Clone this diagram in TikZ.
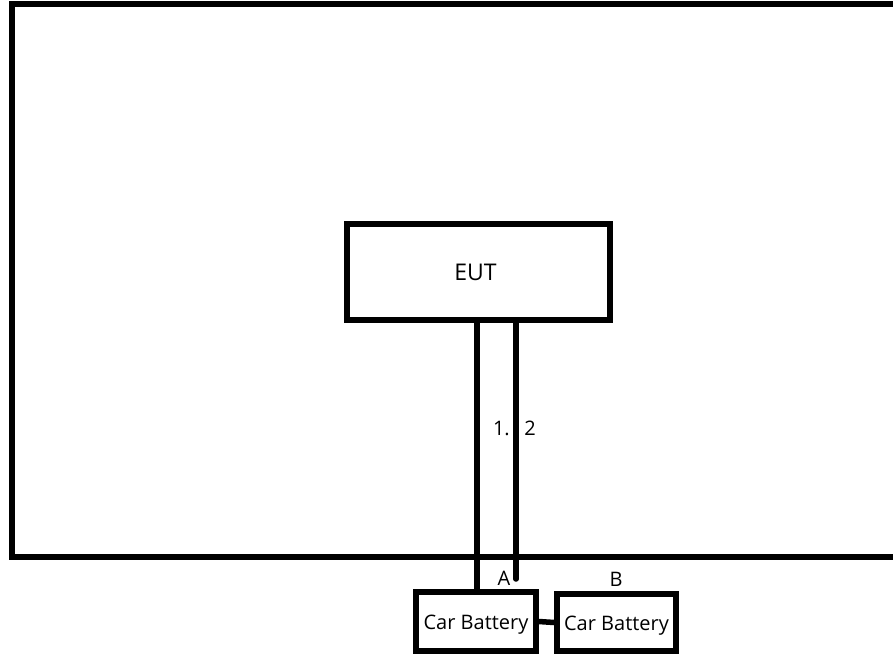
\documentclass[tikz,border=0pt]{standalone}
\usepackage{fontspec}
\setmainfont{Open Sans}
\begin{document}
\begin{tikzpicture}[x=1pt,y=-1pt,
  thick line/.style={line width=5.5pt},
  boxnode/.style={draw,thick line,inner sep=0pt,font=\fontsize{20}{24}\selectfont},
  lbl/.style={inner sep=0pt,font=\fontsize{20}{24}\selectfont}]
\useasboundingbox (0,0) rectangle (893,654);
% outer enclosure
\draw[thick line,line join=miter] (893,4) -- (12,4) -- (12,557) -- (893,557);
% nodes
\node[boxnode,minimum width=263pt,minimum height=96pt,font=\fontsize{23}{27}\selectfont] (eut) at (478.5,272) {\hspace*{-6pt}EUT};
\node[boxnode,minimum width=120pt,minimum height=59pt] (batA) at (476,621.5) {\raisebox{-3pt}[\height][\depth]{Car Battery}};
\node[boxnode,minimum width=119pt,minimum height=57pt] (batB) at (616.5,622.5) {\raisebox{-3pt}[\height][\depth]{Car Battery}};
% wires
\coordinate (w1) at (477,0);
\coordinate (w2) at (516,0);
\coordinate (w2end) at (516,579);
\draw[thick line] (eut.south -| w1) -- (batA.north -| w1);
\draw[thick line,line cap=round] (eut.south -| w2) -- (w2end);
\draw[thick line] (batA.east) -- (batB.west);
% labels
\node[lbl,anchor=east] (l1) at (510,428) {1.};
\node[lbl] (l2) at (530,428) {2};
\node[lbl] (la) at (504,578) {A};
\node[lbl] (lb) at (616,579) {B};
\end{tikzpicture}
\end{document}
